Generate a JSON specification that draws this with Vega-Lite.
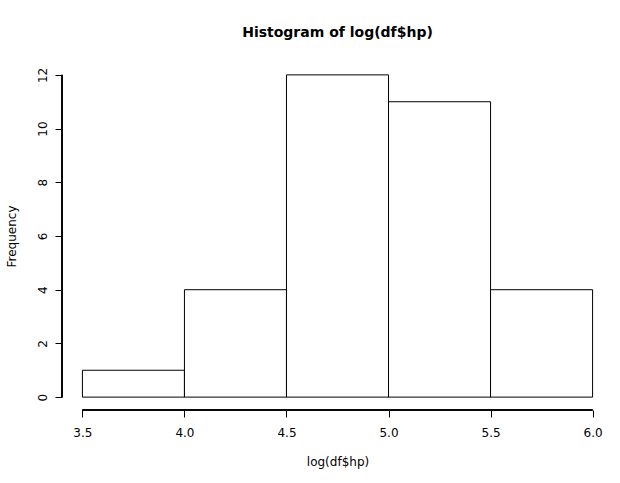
{
  "$schema": "https://vega.github.io/schema/vega-lite/v6.json",
  "autosize": {"type": "none"},
  "width": 551,
  "height": 348,
  "padding": {"left": 62, "top": 62, "right": 7, "bottom": 73},
  "background": "white",
  "config": {
    "view": {"stroke": null},
    "font": "DejaVu Sans",
    "axis": {
      "grid": false,
      "domain": false,
      "tickColor": "black",
      "tickSize": 7,
      "tickWidth": 1,
      "labelColor": "black",
      "labelFont": "DejaVu Sans",
      "labelFontSize": 12,
      "titleColor": "black",
      "titleFont": "DejaVu Sans",
      "titleFontSize": 12,
      "titleFontWeight": "normal"
    }
  },
  "title": {
    "text": "Histogram of log(df$hp)",
    "font": "DejaVu Sans",
    "fontSize": 14,
    "fontWeight": "bold",
    "color": "black",
    "anchor": "middle",
    "offset": 22
  },
  "data": {
    "values": [
      {"bin_start": 3.5, "bin_end": 4.0, "count": 1},
      {"bin_start": 4.0, "bin_end": 4.5, "count": 4},
      {"bin_start": 4.5, "bin_end": 5.0, "count": 12},
      {"bin_start": 5.0, "bin_end": 5.5, "count": 11},
      {"bin_start": 5.5, "bin_end": 6.0, "count": 4}
    ]
  },
  "layer": [
    {
      "mark": {"type": "rect", "fill": "white", "stroke": "black", "strokeWidth": 1},
      "encoding": {
        "x": {
          "field": "bin_start",
          "type": "quantitative",
          "scale": {"domain": [3.4, 6.1], "nice": false, "zero": false},
          "axis": {
            "title": "log(df$hp)",
            "values": [3.5, 4.0, 4.5, 5.0, 5.5, 6.0],
            "format": ".1f",
            "labelPadding": 10,
            "titlePadding": 18
          }
        },
        "x2": {"field": "bin_end"},
        "y": {
          "field": "count",
          "type": "quantitative",
          "scale": {"domain": [-0.48, 12.48], "nice": false, "zero": false},
          "axis": {
            "title": "Frequency",
            "values": [0, 2, 4, 6, 8, 10, 12],
            "labelAngle": -90,
            "labelAlign": "center",
            "labelBaseline": "alphabetic",
            "labelPadding": 9,
            "titlePadding": 18
          }
        },
        "y2": {"datum": 0}
      }
    },
    {
      "mark": {"type": "rule", "color": "black", "strokeWidth": 1},
      "encoding": {
        "x": {"datum": 3.5},
        "x2": {"datum": 6.0},
        "y": {"datum": -0.48}
      }
    },
    {
      "mark": {"type": "rule", "color": "black", "strokeWidth": 1},
      "encoding": {
        "x": {"datum": 3.4},
        "y": {"datum": 0},
        "y2": {"datum": 12}
      }
    }
  ]
}
